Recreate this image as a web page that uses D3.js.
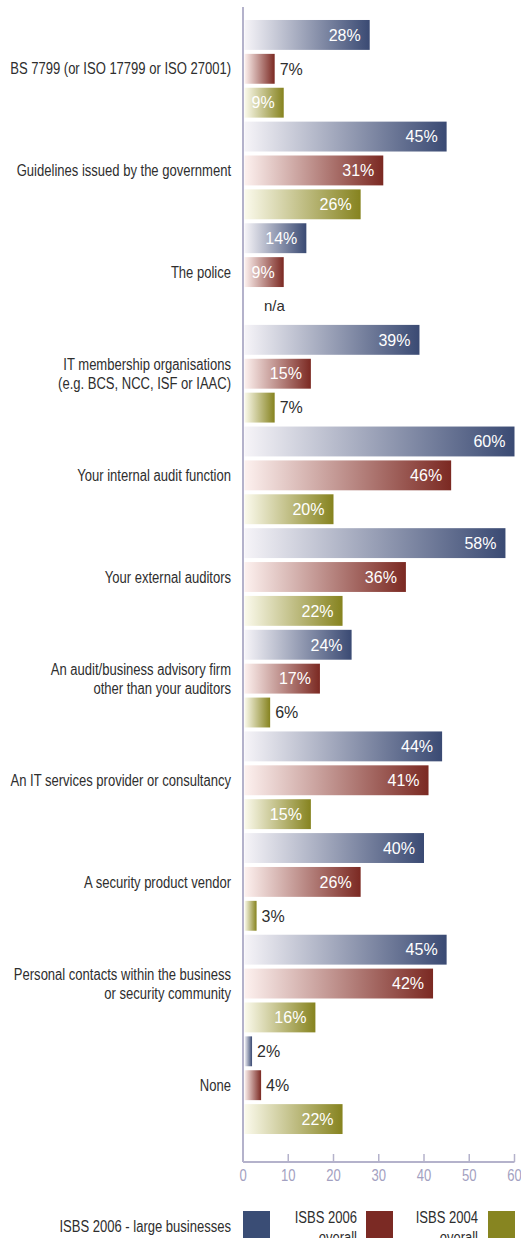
<!DOCTYPE html>
<html><head><meta charset="utf-8">
<script src="https://cdn.jsdelivr.net/npm/d3@7"></script>
<style>
html,body{margin:0;padding:0;background:#fff;}
svg{display:block;}
</style></head>
<body>
<script>
const categories = [
  ["BS 7799 (or ISO 17799 or ISO 27001)"],
  ["Guidelines issued by the government"],
  ["The police"],
  ["IT membership organisations", "(e.g. BCS, NCC, ISF or IAAC)"],
  ["Your internal audit function"],
  ["Your external auditors"],
  ["An audit/business advisory firm", "other than your auditors"],
  ["An IT services provider or consultancy"],
  ["A security product vendor"],
  ["Personal contacts within the business", "or security community"],
  ["None"]
];
const seriesNames = ["ISBS 2006 - large businesses", "ISBS 2006 overall", "ISBS 2004 overall"];
const large2006 = [28, 45, 14, 39, 60, 58, 24, 44, 40, 45, 2];
const overall2006 = [7, 31, 9, 15, 46, 36, 17, 41, 26, 42, 4];
const overall2004 = [9, 26, null, 7, 20, 22, 6, 15, 3, 16, 22];
const tickValues = [0, 10, 20, 30, 40, 50, 60];

const series = [large2006, overall2006, overall2004];
const colors = ["#3a4a73", "#7b2922", "#86831f"];
const lightColors = ["#f6f4f8", "#fdf1ef", "#fbfaec"];
const legendColors = ["#3a4d75", "#7b2a24", "#878521"];

const W = 521, H = 1238;
const svg = d3.select("body").append("svg").attr("width", W).attr("height", H);

const defs = svg.append("defs");
colors.forEach((c, i) => {
  const g = defs.append("linearGradient").attr("id", "grad" + i)
    .attr("x1", "0%").attr("x2", "100%").attr("y1", "0%").attr("y2", "0%");
  g.append("stop").attr("offset", "0%").attr("stop-color", lightColors[i]);
  g.append("stop").attr("offset", "100%").attr("stop-color", c);
});

const x = d3.scaleLinear().domain([0, 60]).range([243, 514.5]);
const rows = [];
categories.forEach((c, ci) => series.forEach((s, si) => rows.push({ci, si, v: s[ci]})));
const yb = d3.scaleBand().domain(d3.range(rows.length)).range([16, 16 + 34 * rows.length]).padding(4/34);

const labelFont = "'Liberation Sans', Arial, sans-serif";
const valueFont = "'Liberation Sans', Arial, sans-serif";
const labelSize = 16;

// condensed factor: reference label width is ~221px
const probe = svg.append("text").attr("font-family", labelFont).attr("font-size", labelSize)
  .text(categories[0][0]);
const probeW = probe.node().getComputedTextLength();
probe.remove();
const sx = 221 / probeW;

function condText(parent, tx, ty, str, opts) {
  const o = Object.assign({size: labelSize, fill: "#2e2e2e", anchor: "end"}, opts || {});
  return parent.append("text")
    .attr("transform", `translate(${tx},${ty}) scale(${sx},1)`)
    .attr("text-anchor", o.anchor).attr("dy", o.dy || null)
    .attr("font-family", labelFont).attr("font-size", o.size).attr("fill", o.fill)
    .text(str);
}

const axisColor = "#b4b2cb";
svg.append("line").attr("x1", x(0)).attr("x2", x(0)).attr("y1", 7).attr("y2", 1162)
  .attr("stroke", axisColor).attr("stroke-width", 2);

// bars
const g = svg.append("g");
rows.forEach((r, i) => {
  const y0 = yb(i), h = yb.bandwidth();
  if (r.v == null) {
    g.append("text").attr("x", x(0) + 21).attr("y", y0 + h / 2).attr("dy", "0.35em")
      .attr("font-family", valueFont).attr("font-size", 15).attr("fill", "#2e2e2e")
      .text("n/a");
    return;
  }
  const x0 = x(0) + 1.5, x1 = x(r.v);
  g.append("rect").attr("x", x0).attr("y", y0).attr("width", x1 - x0).attr("height", h)
    .attr("fill", `url(#grad${r.si})`);
  const inside = r.v >= 8;
  g.append("text")
    .attr("x", inside ? x1 - 9 : x1 + 5)
    .attr("y", y0 + h / 2).attr("dy", "0.36em")
    .attr("text-anchor", inside ? "end" : "start")
    .attr("font-family", valueFont).attr("font-size", 16)
    .attr("fill", inside ? "#ffffff" : "#2e2e2e")
    .text(r.v + "%");
});

// category labels
categories.forEach((lines, ci) => {
  const idx = ci * 3 + 1;
  const cy = yb(idx) + yb.bandwidth() / 2;
  lines.forEach((ln, li) => {
    condText(svg, 231, cy + (li - (lines.length - 1) / 2) * 19, ln, {dy: "0.35em"});
  });
});

// bottom axis
const axisG = svg.append("g").attr("transform", "translate(0,1162)");
axisG.append("line").attr("x1", x(0)).attr("x2", x(60)).attr("y1", 0).attr("y2", 0)
  .attr("stroke", axisColor).attr("stroke-width", 2);
axisG.selectAll("line.tick").data(tickValues).join("line").attr("class", "tick")
  .attr("x1", d => x(d)).attr("x2", d => x(d)).attr("y1", 0).attr("y2", -8)
  .attr("stroke", axisColor).attr("stroke-width", 1.5);
tickValues.forEach(d => condText(axisG, x(d), 19, String(d), {anchor: "middle", fill: "#a3a1c1"}));

// legend
const legend = [
  {lines: ["ISBS 2006 - large businesses"], tx: 231, sx: 243, ty: [1232]},
  {lines: ["ISBS 2006", "overall"], tx: 357, sx: 366, ty: [1223, 1243]},
  {lines: ["ISBS 2004", "overall"], tx: 478, sx: 488, ty: [1223, 1243]}
];
legend.forEach((l, i) => {
  svg.append("rect").attr("x", l.sx).attr("y", 1211).attr("width", 27).attr("height", 27)
    .attr("fill", legendColors[i]);
  l.lines.forEach((ln, li) => condText(svg, l.tx, l.ty[li], ln));
});
</script>
</body></html>
